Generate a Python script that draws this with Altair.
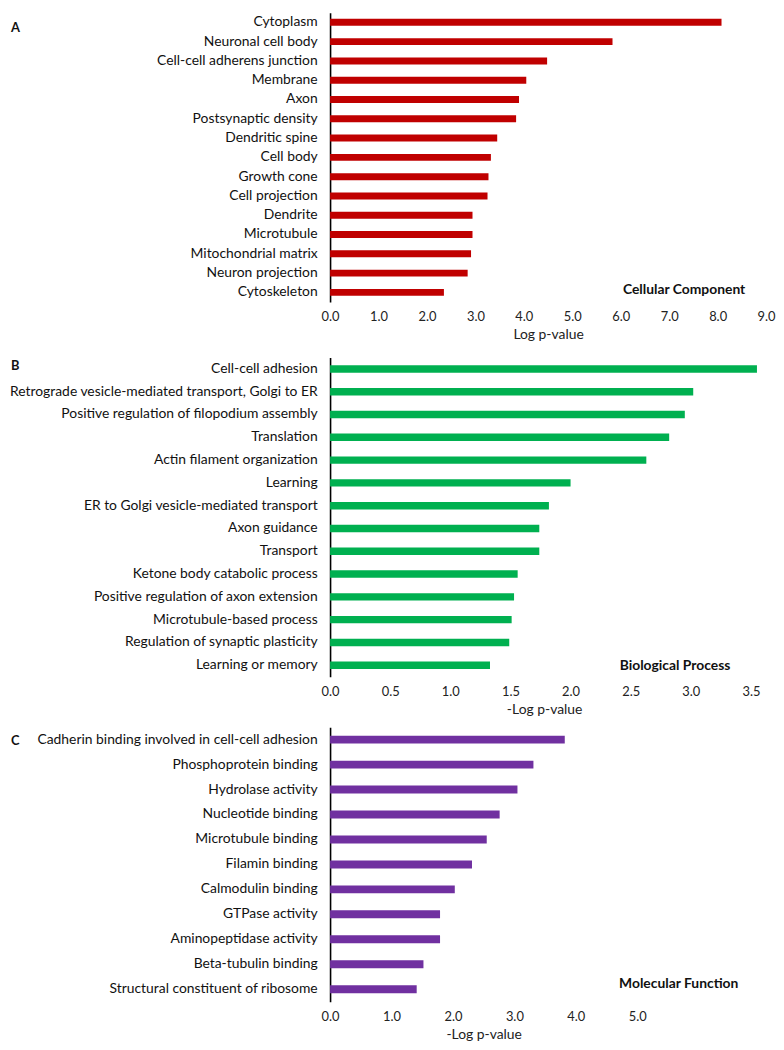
import altair as alt
import pandas as pd

FONT = "Lato"

cc_terms = ["Cytoplasm", "Neuronal cell body", "Cell-cell adherens junction", "Membrane", "Axon",
            "Postsynaptic density", "Dendritic spine", "Cell body", "Growth cone", "Cell projection",
            "Dendrite", "Microtubule", "Mitochondrial matrix", "Neuron projection", "Cytoskeleton"]
cc_values = [8.08, 5.83, 4.48, 4.05, 3.90, 3.84, 3.45, 3.32, 3.27, 3.25, 2.94, 2.94, 2.91, 2.84, 2.35]
cc_ticks = [0, 1, 2, 3, 4, 5, 6, 7, 8, 9]

bp_terms = ["Cell-cell adhesion", "Retrograde vesicle-mediated transport, Golgi to ER",
            "Positive regulation of filopodium assembly", "Translation", "Actin filament organization",
            "Learning", "ER to Golgi vesicle-mediated transport", "Axon guidance", "Transport",
            "Ketone body catabolic process", "Positive regulation of axon extension",
            "Microtubule-based process", "Regulation of synaptic plasticity", "Learning or memory"]
bp_values = [3.55, 3.02, 2.95, 2.82, 2.63, 2.00, 1.82, 1.74, 1.74, 1.56, 1.53, 1.51, 1.49, 1.33]
bp_ticks = [0, 0.5, 1.0, 1.5, 2.0, 2.5, 3.0, 3.5]

mf_terms = ["Cadherin binding involved in cell-cell adhesion", "Phosphoprotein binding", "Hydrolase activity",
            "Nucleotide binding", "Microtubule binding", "Filamin binding", "Calmodulin binding",
            "GTPase activity", "Aminopeptidase activity", "Beta-tubulin binding",
            "Structural constituent of ribosome"]
mf_values = [3.82, 3.31, 3.05, 2.76, 2.55, 2.31, 2.03, 1.79, 1.79, 1.52, 1.41]
mf_ticks = [0, 1, 2, 3, 4, 5]


def panel(terms, values, color, xmax, ticks, xtitle, width, height, bar_size,
          note, note_x, note_y, letter, letter_x, letter_y):
    df = pd.DataFrame({"term": terms, "value": values})
    bars = alt.Chart(df).mark_bar(color=color, size=bar_size).encode(
        x=alt.X("value:Q",
                scale=alt.Scale(domain=[0, xmax], nice=False, zero=True),
                axis=alt.Axis(values=ticks, format=".1f", title=xtitle, grid=False, domain=False,
                              ticks=False, tickSize=0, labelPadding=9, titlePadding=4,
                              labelFont=FONT, labelFontSize=13, labelColor="#222",
                              titleFont=FONT, titleFontSize=14, titleFontWeight="normal",
                              titleColor="#222", labelFlush=False)),
        y=alt.Y("term:N", sort=terms,
                scale=alt.Scale(paddingInner=0, paddingOuter=0),
                axis=alt.Axis(title=None, domain=True, domainColor="black", domainWidth=1.6,
                              ticks=False, tickSize=0, labelPadding=13, labelLimit=0,
                              labelFont=FONT, labelFontSize=14, labelColor="#111")),
    )
    note_layer = alt.Chart(pd.DataFrame({"t": [note]})).mark_text(
        align="right", baseline="middle", fontWeight="bold", fontSize=14, font=FONT, color="#111"
    ).encode(x=alt.value(note_x), y=alt.value(note_y), text="t:N")
    letter_layer = alt.Chart(pd.DataFrame({"t": [letter]})).mark_text(
        align="left", baseline="middle", fontWeight="bold", fontSize=13, font=FONT, color="#111"
    ).encode(x=alt.value(letter_x), y=alt.value(letter_y), text="t:N")
    return alt.layer(bars, note_layer, letter_layer).properties(width=width, height=height)


pa = panel(cc_terms, cc_values, "#C00000", 9, cc_ticks, "Log p-value", 440, 292, 7,
           "Cellular Component", 419, 280, "A", -322, 15)
pb = panel(bp_terms, bp_values, "#00B050", 3.56, bp_ticks, "-Log p-value", 432, 322, 7.5,
           "Biological Process", 404, 311, "B", -322, 9)
pc = panel(mf_terms, mf_values, "#7030A0", 5, mf_ticks, "-Log p-value", 310, 277, 8,
           "Molecular Function", 412, 259, "C", -322, 14)

chart = alt.vconcat(alt.vconcat(pa, pb, spacing=16), pc, spacing=11).configure(
    padding={"left": 0, "top": 0, "right": 0, "bottom": 0}
).configure_view(stroke=None)

chart.save("out.html", embed_options={"renderer": "svg", "actions": False})
